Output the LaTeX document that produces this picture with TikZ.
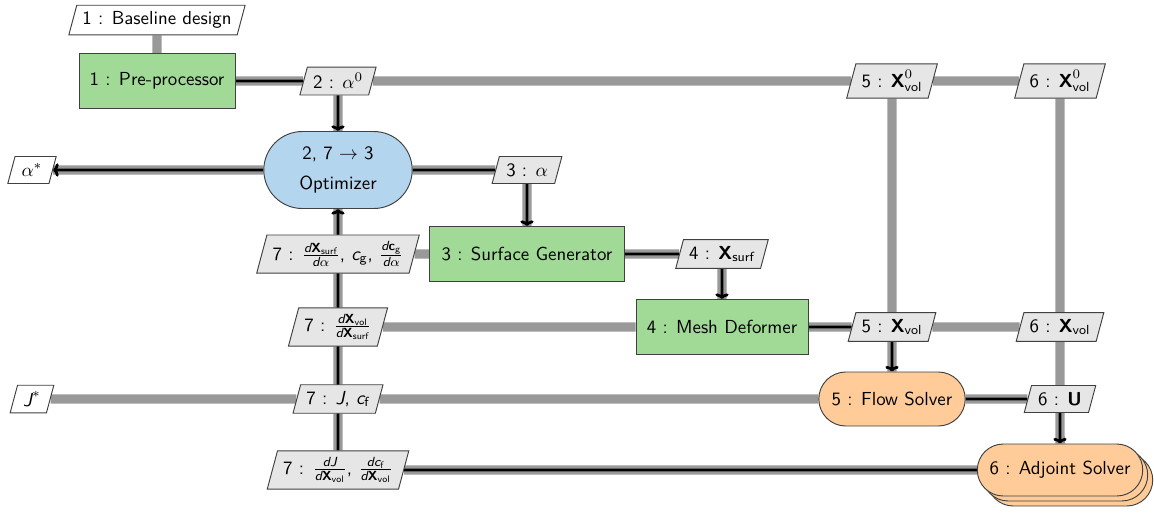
\documentclass[tikz,border=0pt]{standalone}
\usepackage{amsmath}
\usepackage{fontspec}
\usetikzlibrary{shapes.geometric,shapes.misc,arrows.meta,shadows}
\renewcommand{\familydefault}{\sfdefault}
\definecolor{fgreen}{RGB}{160,218,150}
\definecolor{oblue}{RGB}{180,213,238}
\definecolor{sorange}{RGB}{255,204,153}
\definecolor{dgray}{RGB}{153,153,153}
\definecolor{dfill}{RGB}{230,230,230}
\newcommand\pxu{0.53pt}
\newcommand\Xb{\text{\sffamily\bfseries X}}
\newcommand\Ub{\text{\sffamily\bfseries U}}
\newcommand\dd{\text{\sffamily\itshape d}}
\newcommand\sbt[1]{\text{\sffamily #1}}
\newcommand\cc{\text{\sffamily\itshape c}}
\newcommand\cb{\text{\sffamily\bfseries c}}
\newcommand\JJ{\text{\sffamily\itshape J}}
\pgfdeclarelayer{datal}
\pgfdeclarelayer{procl}
\pgfsetlayers{datal,procl,main}
\tikzset{
  blk/.style={draw=black!75, line width=0.5pt, font=\sffamily, align=center},
  func/.style={blk, rectangle, fill=fgreen, minimum height=55*\pxu},
  optim/.style={blk, rounded rectangle, fill=oblue},
  solver/.style={blk, rounded rectangle, fill=sorange, minimum height=54*\pxu},
  dat/.style={blk, trapezium, trapezium left angle=75, trapezium right angle=105, fill=dfill, minimum height=27*\pxu, inner xsep=3pt},
  io/.style={dat, fill=white},
  dline/.style={line width=5pt, draw=dgray},
  pline/.style={line width=1.5pt, draw=black},
  parrow/.style={pline, -{To[width=7pt,length=3pt]}},
}
\begin{document}
\begin{tikzpicture}[x=0.53pt, y=-0.53pt]
\useasboundingbox (0,0) rectangle (1154,512);
% nodes
\node[io] (bd) at (157,20) {1 : Baseline design};
\node[func, minimum width=156*\pxu] (pre) at (157,81) {1 : Pre-processor};
\node[dat] (a0) at (338,81) {2 : $\alpha^0$};
\node[dat] (xv05) at (892,81) {5 : $\Xb^0_{\sbt{vol}}$};
\node[dat] (xv06) at (1060,81) {6 : $\Xb^0_{\sbt{vol}}$};
\node[io] (astar) at (32,170) {$\alpha^*$};
\node[optim, minimum width=161*\pxu, minimum height=77*\pxu] (opt) at (338,170) {2, 7 $\rightarrow$ 3\\[4pt]Optimizer};
\node[dat] (alpha) at (527,170) {3 : $\alpha$};
\node[dat] (dxs) at (338,254) {7 : $\frac{\dd\Xb_{\sbt{surf}}}{\dd\alpha}$, $\cc_{\sbt{g}}$, $\frac{\dd\cb_{\sbt{g}}}{\dd\alpha}$};
\node[func, minimum width=195*\pxu] (sg) at (527,254) {3 : Surface Generator};
\node[dat] (xsurf) at (722,254) {4 : $\Xb_{\sbt{surf}}$};
\node[dat] (dxv) at (338,327) {7 : $\frac{\dd\Xb_{\sbt{vol}}}{\dd\Xb_{\sbt{surf}}}$};
\node[func, minimum width=172*\pxu] (md) at (722,327) {4 : Mesh Deformer};
\node[dat] (xvol5) at (892,327) {5 : $\Xb_{\sbt{vol}}$};
\node[dat] (xvol6) at (1060,327) {6 : $\Xb_{\sbt{vol}}$};
\node[io] (jstar) at (32,399) {$\JJ^*$};
\node[dat] (jcf) at (338,399) {7 : $\JJ$, $\cc_{\sbt{f}}$};
\node[solver, minimum width=159*\pxu] (fs) at (892,399) {5 : Flow Solver};
\node[dat] (u) at (1060,399) {6 : $\Ub$};
\node[dat] (dj) at (338,470) {7 : $\frac{\dd\JJ}{\dd\Xb_{\sbt{vol}}}$, $\frac{\dd\cc_{\sbt{f}}}{\dd\Xb_{\sbt{vol}}}$};
\node[solver, minimum width=178*\pxu, minimum height=52*\pxu,
      double copy shadow={shadow xshift=5*\pxu, shadow yshift=-5*\pxu}] (adj) at (1060,470) {6 : Adjoint Solver};
% data lines
\begin{pgfonlayer}{datal}
\draw[dline] (bd) -- (pre);
\draw[dline] (pre) -- (a0) -- (xv05) -- (xv06);
\draw[dline] (a0) -- (opt);
\draw[dline] (astar) -- (opt) -- (alpha) -- (sg);
\draw[dline] (xv05) -- (xvol5) -- (fs);
\draw[dline] (xv06) -- (xvol6) -- (u) -- (adj);
\draw[dline] (dxs) -- (sg) -- (xsurf) -- (md);
\draw[dline] (dxv) -- (md) -- (xvol5) -- (xvol6);
\draw[dline] (jstar) -- (jcf) -- (fs) -- (u);
\draw[dline] (dj) -- (adj);
\draw[dline] (opt) -- (dxs) -- (dxv) -- (jcf) -- (dj);
\end{pgfonlayer}
% process lines
\begin{pgfonlayer}{procl}
\draw[pline] (pre) -- (a0);
\draw[parrow] (a0) -- (opt);
\draw[parrow] (opt) -- (astar);
\draw[pline] (opt) -- (alpha);
\draw[parrow] (alpha) -- (sg);
\draw[pline] (sg) -- (xsurf);
\draw[parrow] (xsurf) -- (md);
\draw[pline] (md) -- (xvol5);
\draw[parrow] (xvol5) -- (fs);
\draw[pline] (fs) -- (u);
\draw[parrow] (u) -- (adj);
\draw[pline] (adj) -- (dj);
\draw[parrow] (dj) -- (opt);
\end{pgfonlayer}
\end{tikzpicture}
\end{document}
